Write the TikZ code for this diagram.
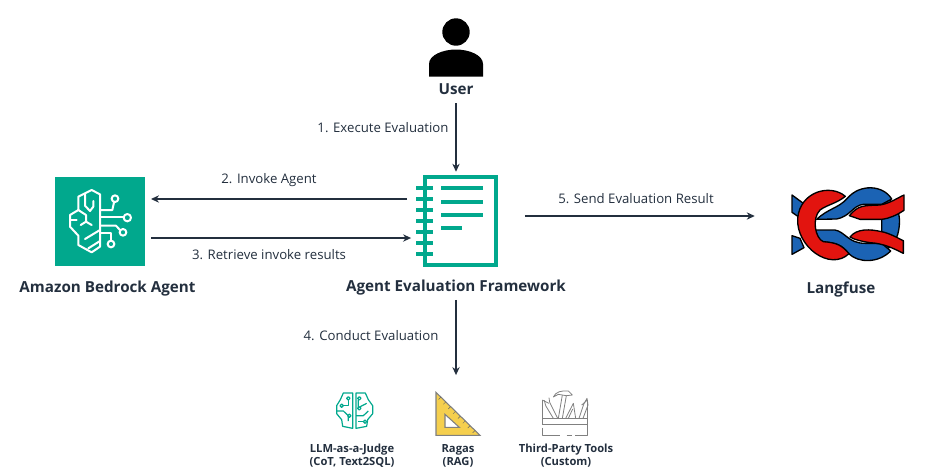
\documentclass[tikz,border=0pt]{standalone}
\usepackage{fontspec}
\setmainfont{Open Sans}
\usetikzlibrary{calc,arrows.meta}
\definecolor{awsteal}{HTML}{01A88D}
\definecolor{inkblue}{HTML}{232F3E}
\definecolor{knotred}{HTML}{E2140F}
\definecolor{knotblue}{HTML}{1B63B4}
\definecolor{rulerfill}{HTML}{F5CF4E}
\tikzset{
  title/.style={font=\fontsize{11.4}{14}\selectfont\bfseries, text=inkblue},
  step label/.style={font=\fontsize{9.9}{11}\selectfont, text=inkblue},
  small title/.style={font=\fontsize{8.4}{9.75}\selectfont\bfseries, text=inkblue, align=center},
  flow/.style={-{Stealth[length=6pt,width=5.5pt]}, line width=.9pt, draw=inkblue},
  knot/.style={draw=black, line width=1pt, line join=round},
}
\begin{document}
\begin{tikzpicture}[x=.75pt, y=-.75pt]
  \useasboundingbox (0,0) rectangle (930,472);

  % main nodes
  \node [fill=awsteal, minimum width=67.5pt, minimum height=67pt, inner sep=0pt, outer sep=4.5pt] (agent) at (100,221.5) {};
  \node [minimum width=88pt, minimum height=73.5pt, inner sep=0pt] (framework) at (466,221) {};
  \node [minimum width=127.5pt, minimum height=60pt, inner sep=0pt] (langfuse) at (840,225) {};
  \node [minimum width=30pt, minimum height=25pt, inner sep=0pt] (ragas) at (456,392) {};

  % labels
  \node [title] (userlabel) at (456,89) {User};
  \node [title] (agentlabel) at (107.5,289) {Amazon Bedrock Agent};
  \node [title] (frameworklabel) at (456,287.5) {Agent Evaluation Framework};
  \node [title] (langfuselabel) at (841,289.5) {Langfuse};
  \node [small title] (judgelabel) at (352,455.5) {LLM-as-a-Judge\\(CoT, Text2SQL)};
  \node [small title] (ragaslabel) at (458,455.5) {Ragas\\(RAG)};
  \node [small title] (toolslabel) at (566,455.5) {Third-Party Tools\\(Custom)};

  % connectors
  \coordinate (invoke) at (framework.west |- 0,199);
  \coordinate (retrieve) at (agent.east |- 0,238);
  \coordinate (send) at (framework.east |- 0,216);
  \path (userlabel.south) edge [flow, shorten <=3pt] (userlabel.south |- framework.north);
  \path (invoke) edge [flow] (agent.east |- invoke);
  \path (retrieve) edge [flow, shorten >=-3pt] (framework.west |- retrieve);
  \path (send) edge [flow] (langfuse.west |- send);
  \path (frameworklabel.south) edge [flow] (frameworklabel.south |- ragas.north);
  \node [step label] (exec) at (383,128) {1. Execute Evaluation};
  \node [step label] (inv) at (269,180) {2. Invoke Agent};
  \node [step label] (ret) at (269,255) {3. Retrieve invoke results};
  \node [step label] (res) at (636,199) {5. Send Evaluation Result};
  \node [step label] (cond) at (371,336) {4. Conduct Evaluation};

  % user icon
  \fill [black] (456,32) circle (13.7);
  \fill [black] (429,76.5) -- (429,64) .. controls (429,55) and (443,49.5) .. (456,49.5)
    .. controls (469,49.5) and (483,55) .. (483,64) -- (483,76.5) -- cycle;

  % agent icon, in zoom units
  \begin{scope}[shift={(40,165)}, x=.25pt, y=-.25pt, draw=white, line width=1.5pt, line join=round, line cap=round]
    \draw (180,88) -- (155,75) -- (115,95) -- (115,135) -- (90,150) -- (90,185) -- (115,212) -- (115,240) -- (155,262) -- (180,245) -- cycle;
    \draw (135,88) -- (135,122) -- (150,138) -- (160,125) -- (160,108);
    \draw (115,135) -- (138,150) -- (138,170) -- (122,180);
    \draw (138,170) -- (155,180);
    \draw (90,165) -- (110,165);
    \draw (135,222) -- (180,195);
    \draw (145,250) -- (180,228);
    \draw (180,135) -- (217,135) -- (222,112);
    \draw (225,101) circle (10);
    \draw (180,157) -- (250,157);
    \draw (262,158) circle (11);
    \draw (180,182) -- (228,182) -- (240,195);
    \draw (249,202) circle (10);
    \draw (180,205) -- (212,205) -- (212,226);
    \draw (213,237) circle (10);
  \end{scope}

  % framework icon
  \begin{scope}[shift={(400,165)}, x=.25pt, y=-.25pt, draw=awsteal, line width=3pt]
    \draw (74,35) rectangle (288,300);
    \foreach \ringy in {70,103,136,169,202,235,268}
      \draw (48,\ringy) -- (98,\ringy);
    \draw (123,70) -- (248,70);
    \draw (123,110) -- (248,110);
    \draw (123,150) -- (248,150);
    \draw (123,190) -- (186,190);
  \end{scope}

  % langfuse icon
  \begin{scope}[shift={(770,175)}, x=.25pt, y=-.25pt]
    \filldraw [knot, fill=knotblue] (66,60) -- (100,85) -- (85,125) -- (66,112) -- cycle;
    \filldraw [knot, fill=knotblue] (66,182) -- (90,190) -- (102,218) -- (66,238) -- cycle;
    \filldraw [knot, fill=knotblue] (330,60) .. controls (375,75) and (392,110) .. (388,150)
      .. controls (385,190) and (370,215) .. (335,232) -- (335,160) -- (335,130) -- cycle;
    \filldraw [knot, fill=knotblue] (135,165) -- (195,165) .. controls (225,170) and (235,205) .. (285,205)
      -- (335,205) -- (362,228) .. controls (325,265) and (265,265) .. (235,235)
      .. controls (215,210) and (200,203) .. (150,200) -- cycle;
    \filldraw [knot, fill=knotred] (226,64) .. controls (180,25) and (90,50) .. (83,130)
      .. controls (78,215) and (180,290) .. (237,236) .. controls (215,210) and (200,203) .. (160,200)
      .. controls (135,190) and (125,130) .. (150,105) .. controls (170,90) and (200,85) .. cycle;
    \filldraw [knot, fill=knotblue] (140,133) .. controls (175,100) and (205,100) .. (232,70)
      .. controls (270,25) and (340,30) .. (365,72) -- (335,88) -- (280,88)
      .. controls (250,90) and (240,125) .. (200,132) -- cycle;
    \filldraw [knot, fill=knotred] (238,122) .. controls (265,90) and (280,92) .. (330,90)
      .. controls (360,85) and (380,70) .. (402,60) -- (402,106) .. controls (380,120) and (360,130) .. (335,133)
      -- (270,133) -- cycle;
    \filldraw [knot, fill=knotred] (240,186) .. controls (260,160) and (300,162) .. (335,170)
      .. controls (360,175) and (385,190) .. (400,197) -- (400,235) .. controls (370,220) and (340,205) .. (300,203)
      .. controls (280,200) and (255,195) .. cycle;
  \end{scope}

  % small brain icon
  \begin{scope}[shift={(300,385)}, x=.25pt, y=-.25pt, draw=awsteal, line width=.9pt, line join=round]
    \draw (158,24) -- (130,24) -- (121,44) -- (110,62) -- (110,86) -- (125,104) -- (128,124) -- (158,130) -- cycle;
    \draw (168,24) -- (196,24) -- (205,44) -- (218,62) -- (218,86) -- (203,104) -- (200,124) -- (168,130) -- cycle;
    \draw (128,62) -- (145,62) -- (145,45);
    \draw (110,78) -- (130,78) -- (145,92) -- (145,108);
    \draw (175,45) -- (175,68) -- (200,55);
    \draw (168,92) -- (190,92) -- (205,78);
    \draw (175,110) -- (190,110);
    \foreach \dotx/\doty in {145/40,148/92,178/40,178/70,195/110,125/62}
      \draw [fill=white] (\dotx,\doty) circle (5);
  \end{scope}

  % ruler icon
  \begin{scope}[shift={(425,385)}, x=.25pt, y=-.25pt]
    \filldraw [fill=rulerfill, draw=gray, line width=.8pt, even odd rule] (33,22) -- (165,151) -- (33,151) -- cycle
      (60,88) -- (103,127) -- (60,127) -- cycle;
    \foreach \tick in {1,...,8}
      \draw [gray!80!black, line width=.35pt] ($(33,22)+(\tick*14.6,\tick*14.3)$) -- +(-7,7);
  \end{scope}

  % toolbox icon
  \begin{scope}[shift={(425,385)}, x=.25pt, y=-.25pt, draw=gray, line width=.6pt, line join=round]
    \draw (352,45) -- (352,120) (352,128) -- (352,152) -- (405,152);
    \draw (425,152) -- (440,152) (450,152) -- (487,152) -- (487,45);
    \draw (352,45) -- (372,55) (487,45) -- (470,60);
    \draw (352,100) -- (487,100);
    \draw (352,118) -- (487,118);
    % wrench
    \draw (362,62) -- (385,100) (374,52) -- (398,100);
    \draw (362,62) -- (358,46) (374,52) -- (372,38);
    % hammer
    \draw (385,36) .. controls (392,20) and (410,16) .. (430,18) -- (442,30) -- (424,32) -- (400,28) -- cycle;
    \draw (412,30) -- (400,100) (424,32) -- (412,100);
    % saw
    \draw (422,100) -- (445,55) -- (452,100);
    \draw (430,100) -- (443,72);
    % screwdriver
    \draw (462,100) -- (476,58) -- (486,40) -- (489,60) -- (474,100);
  \end{scope}
\end{tikzpicture}
\end{document}
